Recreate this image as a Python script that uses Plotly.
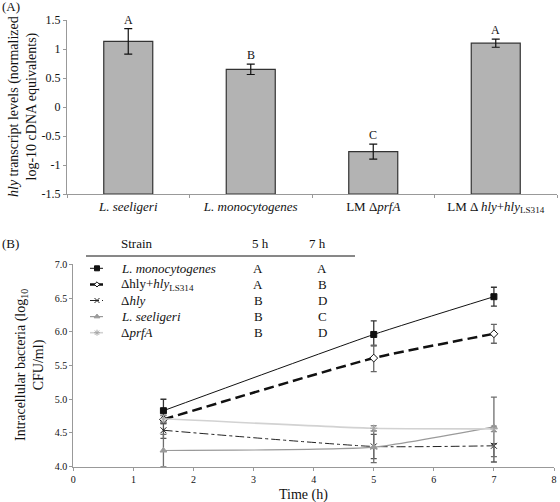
import plotly.graph_objects as go

W, H = 560, 502
FONT = "Times New Roman, Liberation Serif, Tinos, DejaVu Serif, serif"

# ---------- Panel A data ----------
a_categories = ["<i>L. seeligeri</i>", "<i>L. monocytogenes</i>", "LM Δ<i>prfA</i>",
                "LM Δ <i>hly</i>+<i>hly</i><sub>LS314</sub>"]
a_values = [1.13, 0.65, -0.77, 1.10]
a_errors = [0.22, 0.09, 0.13, 0.07]
a_letters = ["A", "B", "C", "A"]
a_ytick_vals = [1.5, 1.0, 0.5, 0.0, -0.5, -1.0, -1.5]
a_ytick_text = ["1.5", "1", "0.5", "0", "-0.5", "-1", "-1.5"]
a_axis_min = -1.5

# ---------- Panel B data ----------
b_time = [1.5, 5, 7]
b_names = ["<i>L. monocytogenes</i>", "Δhly+<i>hly</i><sub>LS314</sub>", "Δ<i>hly</i>",
           "<i>L. seeligeri</i>", "Δ<i>prfA</i>"]
b_values = [
    [4.83, 5.96, 6.52],
    [4.70, 5.61, 5.97],
    [4.54, 4.30, 4.31],
    [4.24, 4.29, 4.59],
    [4.71, 4.57, 4.56],
]
b_err_plus = [
    [0.17, 0.20, 0.14],
    [0.06, 0.19, 0.14],
    [0.10, 0.18, 0.03],
    [0.24, 0.24, 0.44],
    [0.05, 0.04, 0.04],
]
b_err_minus = [
    [0.17, 0.17, 0.14],
    [0.06, 0.20, 0.14],
    [0.12, 0.18, 0.24],
    [0.24, 0.23, 0.44],
    [0.05, 0.04, 0.04],
]
b_5h = ["A", "A", "B", "B", "B"]
b_7h = ["A", "B", "D", "C", "D"]
b_header = ["Strain", "5 h", "7 h"]

b_style = [
    dict(color="#111111", dash="solid", width=1, symbol="square", msize=6, lsize=5, mfill="#111111", mline="#111111", ecol="#333333"),
    dict(color="#111111", dash="10px,5px", width=2.5, symbol="diamond", msize=6, lsize=4, mfill="white", mline="#111111", ecol="#666666"),
    dict(color="#222222", dash="dashdot", width=1, symbol="x-thin-open", msize=6, lsize=5, mfill="#222222", mline="#222222", ecol="#555555"),
    dict(color="#9a9a9a", dash="solid", width=1.2, symbol="triangle-up", msize=6, lsize=5, mfill="#9a9a9a", mline="#9a9a9a", ecol="#6e6e6e"),
    dict(color="#d2d2d2", dash="solid", width=1.6, symbol="asterisk-open", msize=6, lsize=5, mfill="#a8a8a8", mline="#a8a8a8", ecol="#888888"),
]

fig = go.Figure()

fig.add_trace(go.Bar(
    x=a_categories, y=[v - a_axis_min for v in a_values], base=a_axis_min, xaxis="x", yaxis="y",
    marker=dict(color="#b3b3b3", line=dict(color="#333333", width=1.2)),
    width=0.4,
    error_y=dict(type="data", array=a_errors, visible=True, color="#111111", thickness=1.2, width=4),
    showlegend=False, hoverinfo="skip",
))

for name, vals, ep, em, st in zip(b_names, b_values, b_err_plus, b_err_minus, b_style):
    fig.add_trace(go.Scatter(
        x=b_time, y=vals, xaxis="x2", yaxis="y2", name=name, mode="lines+markers", showlegend=False,
        line=dict(color=st["color"], dash=st["dash"], width=st["width"], shape="spline", smoothing=0.5),
        marker=dict(symbol=st["symbol"], size=st["msize"], color=st["mfill"],
                    line=dict(color=st["mline"], width=1)),
        error_y=dict(type="data", symmetric=False, array=ep, arrayminus=em, visible=True,
                     color=st["ecol"], thickness=1.3, width=3),
    ))

# ---------- manual legend (table) in pixel-space overlay axes ----------
row_y0, row_dy = 268.3, 16.1
for i, st in enumerate(b_style):
    yy = row_y0 + i * row_dy
    fig.add_trace(go.Scatter(
        x=[90, 103], y=[yy, yy], xaxis="x3", yaxis="y3", mode="lines", showlegend=False, hoverinfo="skip",
        line=dict(color=st["color"], dash=st["dash"] if i != 1 else "6px,2px", width=st["width"]),
    ))
    fig.add_trace(go.Scatter(
        x=[97], y=[yy], xaxis="x3", yaxis="y3", mode="markers", showlegend=False, hoverinfo="skip",
        marker=dict(symbol=st["symbol"], size=st["lsize"], color=st["mfill"], line=dict(color=st["mline"], width=1)),
    ))

annotations = []
for cat, v, e, lt in zip(a_categories, a_values, a_errors, a_letters):
    annotations.append(dict(x=cat, y=v + e, xref="x", yref="y", text=lt, showarrow=False,
                            yshift=9, font=dict(family=FONT, size=12, color="#111")))

# panel labels
annotations.append(dict(x=0, y=1 - 7 / H, xref="paper", yref="paper", text="(A)", showarrow=False,
                        xanchor="left", yanchor="middle", font=dict(family=FONT, size=13, color="#111")))
annotations.append(dict(x=0, y=1 - 243 / H, xref="paper", yref="paper", text="(B)", showarrow=False,
                        xanchor="left", yanchor="middle", font=dict(family=FONT, size=13, color="#111")))

# axis titles
annotations.append(dict(x=23 / W, y=1 - 107 / H, xref="paper", yref="paper",
                        text="<i>hly</i> transcript levels (normalized<br>log-10 cDNA equivalents)",
                        showarrow=False, textangle=-90, xanchor="center", yanchor="middle",
                        font=dict(family=FONT, size=14, color="#111")))
annotations.append(dict(x=30 / W, y=1 - 365 / H, xref="paper", yref="paper",
                        text="Intracellular bacteria (log<sub>10</sub><br>CFU/ml)",
                        showarrow=False, textangle=-90, xanchor="center", yanchor="middle",
                        font=dict(family=FONT, size=14, color="#111")))
annotations.append(dict(x=303 / W, y=1 - 495 / H, xref="paper", yref="paper", text="Time (h)",
                        showarrow=False, xanchor="center", yanchor="middle",
                        font=dict(family=FONT, size=14, color="#111")))

# table header + legend names + letters
for txt, xc in zip(b_header, [137, 260, 317]):
    annotations.append(dict(x=xc / W, y=1 - 243 / H, xref="paper", yref="paper", text=txt,
                            showarrow=False, xanchor="center", yanchor="middle",
                            font=dict(family=FONT, size=13, color="#111")))
for i, (nm, l5, l7) in enumerate(zip(b_names, b_5h, b_7h)):
    yy = 1 - (row_y0 + i * row_dy) / H
    annotations.append(dict(x=119 / W, y=yy, xref="paper", yref="paper", text=nm, showarrow=False,
                            xanchor="left", yanchor="middle", font=dict(family=FONT, size=13, color="#111")))
    annotations.append(dict(x=258 / W, y=yy, xref="paper", yref="paper", text=l5, showarrow=False,
                            xanchor="center", yanchor="middle", font=dict(family=FONT, size=13, color="#111")))
    annotations.append(dict(x=322 / W, y=yy, xref="paper", yref="paper", text=l7, showarrow=False,
                            xanchor="center", yanchor="middle", font=dict(family=FONT, size=13, color="#111")))

shapes = [dict(type="line", xref="paper", yref="paper", x0=86 / W, x1=355 / W,
               y0=1 - 256 / H, y1=1 - 256 / H, line=dict(color="#111", width=1))]

def axis_common(size):
    return dict(showline=True, linecolor="#999999", linewidth=1, ticks="outside", tickcolor="#999999",
                ticklen=3, showgrid=False, zeroline=False,
                tickfont=dict(family=FONT, size=size, color="#111"))

fig.update_layout(
    width=W, height=H, margin=dict(l=0, r=0, t=0, b=0, autoexpand=False),
    paper_bgcolor="white", plot_bgcolor="rgba(0,0,0,0)",
    font=dict(family=FONT, size=13, color="#111"),
    showlegend=False,
    xaxis=dict(domain=[67 / W, 557 / W], anchor="y", tickson="boundaries", **axis_common(13)),
    yaxis=dict(domain=[1 - 194 / H, 1 - 20 / H], anchor="x", range=[-1.5, 1.5],
               tickvals=a_ytick_vals, ticktext=a_ytick_text, **axis_common(12)),
    xaxis2=dict(domain=[73.3 / W, 554 / W], anchor="y2", range=[0, 8], dtick=1, **axis_common(10)),
    yaxis2=dict(domain=[1 - 466.7 / H, 1 - 264.3 / H], anchor="x2", range=[4.0, 7.0], dtick=0.5,
                tickformat=".1f", **axis_common(10)),
    xaxis3=dict(domain=[0, 1], anchor="y3", range=[0, W], visible=False, fixedrange=True),
    yaxis3=dict(domain=[0, 1], anchor="x3", range=[H, 0], visible=False, fixedrange=True),
    annotations=annotations, shapes=shapes,
)

fig.write_html("out.html", config={"displayModeBar": False},
               post_script="document.body.style.margin='0';document.body.style.padding='0';"
                           "document.body.style.overflow='hidden';")
